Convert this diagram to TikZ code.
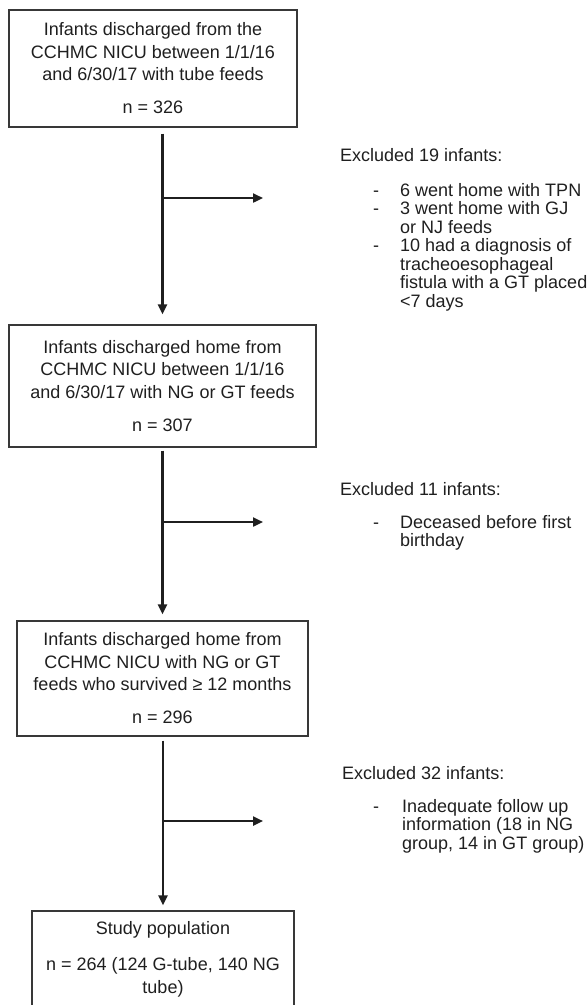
\documentclass[tikz,border=0pt]{standalone}
\usepackage{fontspec}
\setmainfont{Liberation Sans}
\usetikzlibrary{arrows.meta}
\begin{document}
\begin{tikzpicture}[x=1pt,y=-1pt,
  box/.style={draw=black!78, line width=1.3pt, align=center, inner sep=0pt, text=black!88,
    font=\fontsize{18}{22.5}\selectfont},
  arr/.style={draw=black!88, line width=2.3pt, -{Triangle[length=10pt,width=9pt]}},
  txt/.style={anchor=base west, inner sep=0pt, text=black!88, font=\fontsize{18}{22}\selectfont}]
\clip (0,0) rectangle (588,1005);
% boxes
\node[box, minimum width=288pt, minimum height=117pt] (b1) at (153,68.5)
  {Infants discharged from the\\CCHMC NICU between 1/1/16\\and 6/30/17 with tube feeds\\[10.5pt]n = 326};
\node[box, minimum width=307pt, minimum height=122pt] (b2) at (162.5,386)
  {Infants discharged home from\\CCHMC NICU between 1/1/16\\and 6/30/17 with NG or GT feeds\\[11pt]n = 307};
\node[box, minimum width=291pt, minimum height=115pt] (b3) at (162.5,678.5)
  {Infants discharged home from\\CCHMC NICU with NG or GT\\feeds who survived ≥ 12 months\\[10.5pt]n = 296};
\node[box, minimum width=262pt, minimum height=96pt] (b4) at (163,959)
  {Study population\\[14pt]n = 264 (124 G-tube, 140 NG\\tube)};
% main arrows
\draw[arr, shorten <=6pt, shorten >=10pt] (b1.south -| b2.north) -- (b2.north);
\draw[arr, shorten <=3pt, shorten >=6pt] (b2.south) -- (b3.north);
\draw[arr, shorten <=4pt, shorten >=5pt] (b3.south -| b4.north) -- (b4.north);
% branch arrows
\coordinate (j1) at (162.5,198); \coordinate (t1) at (263,198);
\coordinate (j2) at (162.5,522); \coordinate (t2) at (263,522);
\coordinate (j3) at (162.5,821); \coordinate (t3) at (263,821);
\draw[arr] (j1) -- (t1);
\draw[arr] (j2) -- (t2);
\draw[arr] (j3) -- (t3);
% exclusion group 1
\node[txt] (e1) at (340,161) {Excluded 19 infants:};
\node[txt] (e1d1) at (373,196) {-};
\node[txt] (e1l1) at (400,196) {6 went home with TPN};
\node[txt] (e1d2) at (373,214.5) {-};
\node[txt] (e1l2) at (400,214.5) {3 went home with GJ};
\node[txt] (e1l3) at (400,233) {or NJ feeds};
\node[txt] (e1d4) at (373,251.5) {-};
\node[txt] (e1l4) at (400,251.5) {10 had a diagnosis of};
\node[txt] (e1l5) at (400,270) {tracheoesophageal};
\node[txt] (e1l6) at (400,288.5) {fistula with a GT placed};
\node[txt] (e1l7) at (400,307) {<7 days};
% exclusion group 2
\node[txt] (e2) at (340,495) {Excluded 11 infants:};
\node[txt] (e2d1) at (373,528) {-};
\node[txt] (e2l1) at (400,528) {Deceased before first};
\node[txt] (e2l2) at (400,546.5) {birthday};
% exclusion group 3
\node[txt] (e3) at (342,779) {Excluded 32 infants:};
\node[txt] (e3d1) at (373,812) {-};
\node[txt] (e3l1) at (402,812) {Inadequate follow up};
\node[txt] (e3l2) at (402,830.5) {information (18 in NG};
\node[txt] (e3l3) at (402,849) {group, 14 in GT group)};
\end{tikzpicture}
\end{document}
